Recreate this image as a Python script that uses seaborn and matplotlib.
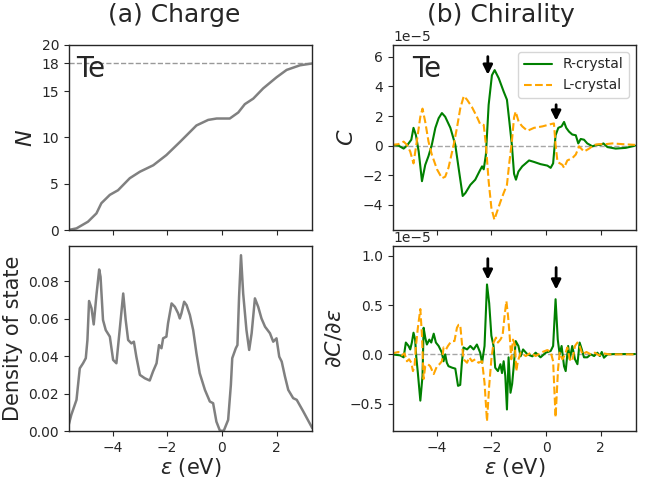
import numpy as np
import pandas as pd
import matplotlib
matplotlib.use('Agg')
import matplotlib.pyplot as plt
import seaborn as sns

# (a) integrated charge N(eps)
eps_n = [-5.62, -5.32, -4.90, -4.59, -4.41, -4.10, -3.80, -3.37, -3.00, -2.51, -2.03, -1.54,
         -0.93, -0.50, -0.19, 0.29, 0.60, 0.84, 1.15, 1.51, 2.00, 2.37, 2.86, 3.31]
n_val = [0, 0.18, 0.9, 1.8, 2.9, 3.8, 4.3, 5.6, 6.3, 7.0, 8.1, 9.5,
         11.3, 11.9, 12.05, 12.05, 12.7, 13.6, 14.2, 15.3, 16.5, 17.3, 17.8, 18.0]

# (a) density of state
eps_dos = [-5.62, -5.51, -5.32, -5.20, -5.08, -4.98, -4.92, -4.86, -4.77, -4.69,
           -4.59, -4.49, -4.44, -4.35, -4.25, -4.10, -3.98, -3.86, -3.74, -3.61,
           -3.52, -3.43, -3.31, -3.22, -3.13, -3.00, -2.82, -2.64, -2.52, -2.39,
           -2.30, -2.21, -2.15, -2.03, -1.97, -1.84, -1.72, -1.60, -1.54, -1.48,
           -1.38, -1.29, -1.17, -1.05, -0.93, -0.81, -0.62, -0.44, -0.32, -0.20,
           -0.07, 0.07, 0.23, 0.33, 0.38, 0.51, 0.57, 0.63, 0.70, 0.78,
           0.90, 1.00, 1.09, 1.21, 1.33, 1.45, 1.58, 1.76, 1.88, 2.00,
           2.10, 2.19, 2.31, 2.43, 2.61, 2.74, 2.98, 3.31]
dos = [0.0025, 0.0087, 0.0167, 0.0335, 0.0362, 0.0389, 0.0486, 0.0694, 0.0655, 0.0569,
       0.0726, 0.0862, 0.0823, 0.0593, 0.0539, 0.0504, 0.0380, 0.0362, 0.0539, 0.0734,
       0.0593, 0.0486, 0.0468, 0.0477, 0.0397, 0.0300, 0.0282, 0.0270, 0.0318, 0.0362,
       0.0459, 0.0442, 0.0495, 0.0504, 0.0575, 0.0681, 0.0663, 0.0628, 0.0601, 0.0628,
       0.0690, 0.0672, 0.0619, 0.0539, 0.0415, 0.0309, 0.0220, 0.0158, 0.0149, 0.0051,
       0.0002, 0.0002, 0.0060, 0.0247, 0.0389, 0.0442, 0.0459, 0.0717, 0.0938, 0.0734,
       0.0539, 0.0433, 0.0522, 0.0708, 0.0663, 0.0601, 0.0557, 0.0522, 0.0477, 0.0495,
       0.0397, 0.0371, 0.0291, 0.0220, 0.0176, 0.0167, 0.0105, 0.0016]

# (b) chirality C, in units of 1e-5
eps_cr = [-5.64, -5.40, -5.21, -5.09, -4.93, -4.85, -4.76, -4.66, -4.54, -4.42,
          -4.30, -4.18, -4.05, -3.93, -3.81, -3.69, -3.50, -3.32, -3.20, -3.05,
          -2.95, -2.77, -2.59, -2.44, -2.34, -2.28, -2.20, -2.10, -1.98, -1.88,
          -1.73, -1.55, -1.43, -1.34, -1.25, -1.17, -1.10, -1.01, -0.87, -0.62,
          -0.44, -0.20, 0.05, 0.17, 0.26, 0.35, 0.45, 0.57, 0.66, 0.74,
          0.84, 0.96, 1.09, 1.18, 1.27, 1.39, 1.51, 1.70, 1.84, 2.00,
          2.10, 2.25, 2.55, 2.92, 3.26]
c_r = [0.05, 0.0, -0.2, 0.0, 0.4, 1.2, 0.7, -0.4, -2.4, -1.3,
       -0.7, 0.05, 1.2, 1.85, 2.2, 1.95, 1.2, 0.05, -1.5, -3.4,
       -3.2, -2.65, -2.3, -1.75, -1.4, -1.6, -0.6, 2.75, 4.75, 5.1,
       4.55, 3.65, 3.1, 1.6, 0.05, -1.9, -2.3, -1.75, -1.4, -1.0,
       -1.1, -1.25, -1.35, -1.5, -1.2, 0.7, 1.2, 1.3, 1.6, 1.2,
       0.95, 0.75, 0.7, 0.15, 0.45, 0.4, 0.15, -0.05, 0.05, 0.05,
       0.15, -0.1, -0.2, -0.15, 0.0]
eps_cl = [-5.64, -5.40, -5.21, -5.09, -4.97, -4.85, -4.73, -4.60, -4.52, -4.42,
          -4.30, -4.18, -3.99, -3.81, -3.69, -3.57, -3.38, -3.26, -3.14, -3.01,
          -2.89, -2.71, -2.53, -2.41, -2.28, -2.20, -2.10, -2.00, -1.89, -1.79,
          -1.67, -1.55, -1.43, -1.34, -1.25, -1.17, -1.11, -1.00, -0.87, -0.68,
          -0.44, -0.13, 0.17, 0.29, 0.35, 0.42, 0.60, 0.66, 0.78, 0.96,
          1.09, 1.21, 1.39, 1.58, 1.76, 1.94, 2.19, 2.43, 2.80, 3.26]
c_l = [0.05, 0.1, 0.27, 0.05, -0.4, -1.2, 0.27, 1.95, 2.5, 1.6,
       0.27, -0.6, -1.6, -2.2, -2.1, -1.5, 0.05, 1.2, 2.5, 3.35,
       3.1, 2.6, 1.95, 1.45, 1.4, 0.05, -2.4, -4.2, -5.0, -4.45,
       -3.8, -3.2, -2.65, -1.1, 0.27, 1.9, 2.3, 1.6, 1.3, 1.0,
       1.2, 1.3, 1.45, 1.5, 0.05, -1.1, -1.3, -1.5, -1.0, -0.85,
       -0.6, -0.05, -0.4, -0.2, 0.05, 0.1, 0.1, 0.15, 0.1, 0.05]

# (b) dC/deps, in units of 1e-5
eps_dr = [-5.64, -5.34, -5.21, -5.13, -5.03, -4.97, -4.91, -4.85, -4.79, -4.75,
          -4.69, -4.60, -4.52, -4.48, -4.42, -4.36, -4.27, -4.20, -4.11, -4.03,
          -3.93, -3.81, -3.75, -3.69, -3.63, -3.57, -3.44, -3.32, -3.22, -3.14,
          -3.08, -3.02, -2.89, -2.77, -2.65, -2.53, -2.41, -2.34, -2.25, -2.16,
          -2.08, -2.00, -1.92, -1.86, -1.76, -1.67, -1.61, -1.55, -1.49, -1.43,
          -1.37, -1.30, -1.24, -1.17, -1.11, -1.01, -0.93, -0.84, -0.68, -0.50,
          -0.38, -0.20, -0.01, 0.17, 0.26, 0.35, 0.43, 0.50, 0.57, 0.66,
          0.72, 0.81, 0.87, 0.96, 1.06, 1.15, 1.23, 1.31, 1.39, 1.51,
          1.64, 1.76, 1.88, 1.97, 2.04, 2.12, 2.25, 2.55, 3.26]
d_r = [0, -0.01, -0.03, 0.12, 0.085, 0.05, 0.12, 0.22, 0.15, -0.02,
       -0.19, -0.47, -0.22, 0.27, 0.17, 0.10, 0.15, 0.12, 0.21, 0.12,
       0.085, 0.017, -0.07, 0, -0.085, -0.12, -0.135, -0.145, -0.32, -0.31,
       -0.085, 0.07, 0.05, 0.085, 0.05, 0.10, 0.017, -0.085, 0.085, 0.71,
       0.52, 0.19, 0.085, -0.135, -0.17, -0.10, -0.19, -0.07, -0.22, -0.56,
       -0.03, -0.39, -0.3, -0.085, 0.135, 0.085, -0.02, 0.05, 0, -0.02,
       0.017, -0.03, 0.017, 0.034, 0.085, 0.56, 0.15, 0, 0.085, -0.12,
       -0.17, 0.085, -0.05, 0.085, -0.05, -0.10, 0.12, 0.05, -0.03, -0.03,
       0, -0.017, 0.017, -0.017, 0.024, -0.034, 0, 0.003, 0.003]
eps_dl = [-5.64, -5.40, -5.28, -5.18, -5.09, -5.01, -4.93, -4.87, -4.81, -4.76,
          -4.69, -4.60, -4.54, -4.48, -4.42, -4.32, -4.24, -4.11, -3.99, -3.90,
          -3.81, -3.75, -3.66, -3.59, -3.50, -3.44, -3.35, -3.26, -3.20, -3.14,
          -3.08, -3.02, -2.89, -2.81, -2.71, -2.59, -2.47, -2.34, -2.25, -2.16,
          -2.08, -2.00, -1.92, -1.83, -1.76, -1.67, -1.59, -1.51, -1.45, -1.39,
          -1.33, -1.27, -1.21, -1.14, -1.09, -1.03, -0.93, -0.74, -0.56, -0.38,
          -0.13, 0.05, 0.17, 0.26, 0.35, 0.44, 0.50, 0.60, 0.70, 0.78,
          0.87, 0.96, 1.06, 1.15, 1.23, 1.33, 1.48, 1.64, 1.79, 1.94,
          2.10, 2.31, 3.26]
d_l = [0.01, 0.024, -0.01, 0.01, -0.07, -0.05, -0.085, -0.17, -0.12, 0.085,
       0.27, 0.46, 0.19, -0.25, -0.12, -0.10, -0.12, -0.20, -0.12, -0.10,
       -0.07, 0.07, 0.05, 0.085, 0.12, 0.135, 0.135, 0.27, 0.30, 0.30,
       0.12, -0.05, -0.085, -0.03, -0.07, -0.05, -0.085, -0.07, -0.29, -0.68,
       -0.32, -0.05, 0.12, 0.17, 0.12, 0.15, 0.19, 0.41, 0.54, 0.39,
       0.19, -0.05, 0.15, 0.10, -0.17, -0.07, 0.017, -0.017, 0.017, -0.017,
       0.024, 0.044, 0.024, -0.07, -0.64, -0.15, 0.017, -0.05, 0, 0.07,
       -0.05, -0.07, 0.085, 0.12, 0.085, 0, 0.024, 0, 0.017, -0.01,
       0.01, 0, 0]

# arrows marking the peaks (eps, start, end) in units of 1e-5
arrows_c = [(-2.13, 6.2, 4.6), (0.37, 2.95, 1.5)]
arrows_d = [(-2.13, 1.0, 0.73), (0.37, 0.91, 0.63)]

scale = 1e-5

sns.set_style("ticks")
plt.rcParams['font.family'] = ['DejaVu Sans']
plt.rcParams['mathtext.fontset'] = 'dejavusans'
plt.rcParams['axes.linewidth'] = 1.0

fig, axes = plt.subplots(2, 2, figsize=(6.62, 4.78), dpi=100, sharex='col')
fig.subplots_adjust(left=0.104, right=0.961, bottom=0.098, top=0.906,
                    wspace=0.333, hspace=0.0865)

# charge
ax = axes[0, 0]
sns.lineplot(x=eps_n, y=n_val, color='gray', lw=1.8, ax=ax)
ax.axhline(18, color='gray', ls='--', lw=1, alpha=0.8, zorder=0)
ax.set_ylim(0, 20)
ax.set_yticks([0, 5, 10, 15, 18, 20])
ax.set_ylabel('$N$', fontsize=16)
ax.text(0.03, 0.827, 'Te', transform=ax.transAxes, fontsize=20, va='baseline')

# dos
ax = axes[1, 0]
sns.lineplot(x=eps_dos, y=dos, color='gray', lw=1.8, ax=ax)
ax.set_ylim(0, 0.0987)
ax.set_yticks([0, 0.02, 0.04, 0.06, 0.08])
ax.set_ylabel('Density of state', fontsize=15)
ax.set_xlabel(r'$\varepsilon$ (eV)', fontsize=15, labelpad=1)

# chirality
ax = axes[0, 1]
ax.axhline(0, color='gray', ls='--', lw=1, alpha=0.7, zorder=0)
sns.lineplot(x=eps_cr, y=np.array(c_r) * scale, color='green', lw=1.5,
             label='R-crystal', ax=ax)
sns.lineplot(x=eps_cl, y=np.array(c_l) * scale, color='orange', lw=1.5,
             ls='--', label='L-crystal', ax=ax)
ax.set_ylim(-5.7e-5, 6.8e-5)
ax.set_yticks(np.array([-4, -2, 0, 2, 4, 6]) * scale)
ax.set_ylabel('$C$', fontsize=16)
ax.text(0.077, 0.829, 'Te', transform=ax.transAxes, fontsize=20, va='baseline')
ax.legend(loc='upper right', fontsize=10)
for x, y0, y1 in arrows_c:
    ax.annotate('', xy=(x, y1 * scale), xytext=(x, y0 * scale),
                arrowprops=dict(arrowstyle='-|>', color='black', lw=2, mutation_scale=14))

# derivative
ax = axes[1, 1]
ax.axhline(0, color='gray', ls='--', lw=1, alpha=0.7, zorder=0)
sns.lineplot(x=eps_dr, y=np.array(d_r) * scale, color='green', lw=1.5, ax=ax)
sns.lineplot(x=eps_dl, y=np.array(d_l) * scale, color='orange', lw=1.5, ls='--', ax=ax)
ax.set_ylim(-0.78e-5, 1.1e-5)
ax.set_yticks(np.array([-0.5, 0, 0.5, 1.0]) * scale)
ax.set_ylabel(r'$\partial C/\partial \varepsilon$', fontsize=16)
ax.set_xlabel(r'$\varepsilon$ (eV)', fontsize=15, labelpad=1)
for x, y0, y1 in arrows_d:
    ax.annotate('', xy=(x, y1 * scale), xytext=(x, y0 * scale),
                arrowprops=dict(arrowstyle='-|>', color='black', lw=2, mutation_scale=14))

for ax in axes.flat:
    ax.set_xlim(-5.6, 3.3)
    ax.tick_params(labelsize=10)

fig.text(0.2636, 0.969, '(a) Charge', fontsize=18, ha='center', va='center')
fig.text(0.756, 0.969, '(b) Chirality', fontsize=18, ha='center', va='center')

fig.savefig('out.png', dpi=100)
